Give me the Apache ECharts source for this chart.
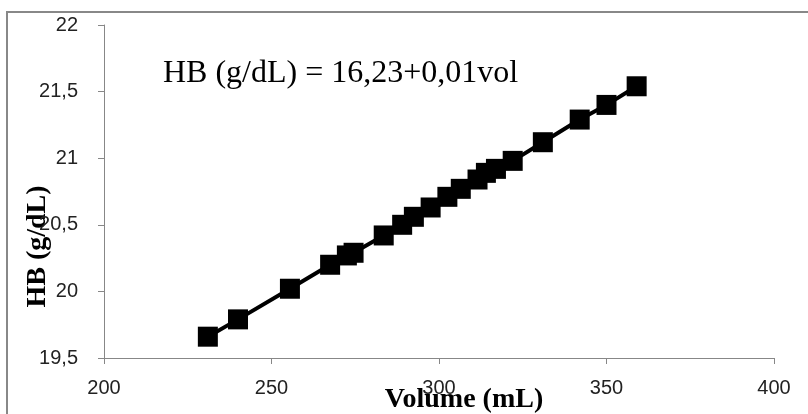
<!DOCTYPE html>
<html>
<head>
	<meta charset="UTF-8">
	<title>HB vs Volume</title>
	<style>
		* { margin: 0; padding: 0; }
		html, body { width: 100%; height: 100%; background: #fff; overflow: hidden; }
		#chart { width: 808px; height: 414px; }
	</style>
</head>
<body>
	<div id="chart"></div>
	<script src="https://cdn.jsdelivr.net/npm/echarts@6/dist/echarts.min.js"></script>
	<script>
		// Volume (mL) and HB (g/dL)
		var volume = [231, 240, 255.5, 267.5, 272.5, 274.5, 283.5, 289, 292.5, 297.5, 302.5, 306.5, 311.5, 314, 317, 322, 331, 342, 350, 359];
		var hb = [19.66, 19.79, 20.02, 20.20, 20.27, 20.29, 20.42, 20.50, 20.56, 20.63, 20.71, 20.77, 20.84, 20.89, 20.92, 20.98, 21.12, 21.29, 21.40, 21.54];
		var xTicks = [200, 400, 50];   // min, max, step
		var yTicks = [19.5, 22, 0.5];
		var equation = 'HB (g/dL) = 16,23+0,01vol';

		var points = volume.map(function(v, i) {
			return [v, hb[i]];
		});

		function comma(v) {
			return String(v).replace('.', ',');
		}

		var chart = echarts.init(document.getElementById('chart'));
		var axisColor = '#878787';
		var option = {
			backgroundColor: '#fff',
			animation: false,
			grid: {
				left: 104,
				right: 34,
				top: 25,
				bottom: 56,
				containLabel: false,
				outerBoundsMode: 'none'
			},
			xAxis: {
				type: 'value',
				min: xTicks[0],
				max: xTicks[1],
				interval: xTicks[2],
				name: 'Volume (mL)',
				nameLocation: 'middle',
				nameGap: 28,
				nameMoveOverlap: false,
				nameTextStyle: {
					fontFamily: 'Liberation Serif',
					fontWeight: 'bold',
					fontSize: 28,
					color: '#000',
					padding: [0, 0, 0, 50]
				},
				axisLine: { lineStyle: { color: axisColor, width: 1 } },
				axisTick: { show: true, length: 6, lineStyle: { color: axisColor } },
				axisLabel: {
					margin: 20,
					fontFamily: 'Liberation Sans',
					fontSize: 20,
					color: '#222'
				},
				splitLine: { show: false }
			},
			yAxis: {
				type: 'value',
				min: yTicks[0],
				max: yTicks[1],
				interval: yTicks[2],
				name: 'HB (g/dL)',
				nameLocation: 'middle',
				nameGap: 52,
				nameMoveOverlap: false,
				nameTextStyle: {
					fontFamily: 'Liberation Serif',
					fontWeight: 'bold',
					fontSize: 28,
					color: '#000',
					padding: [0, 110, 0, 0]
				},
				axisLine: { show: true, lineStyle: { color: axisColor, width: 1 } },
				axisTick: { show: true, length: 6, lineStyle: { color: axisColor } },
				axisLabel: {
					margin: 26,
					fontFamily: 'Liberation Sans',
					fontSize: 20,
					color: '#222',
					formatter: comma
				},
				splitLine: { show: false }
			},
			graphic: [{
				type: 'rect',
				silent: true,
				shape: { x: 7, y: 12, width: 900, height: 500 },
				style: { fill: 'none', stroke: '#888', lineWidth: 2 }
			}, {
				type: 'text',
				left: 163,
				top: 58,
				style: {
					text: equation,
					font: '32px "Liberation Serif"',
					fill: '#000'
				}
			}],
			series: [{
				type: 'line',
				data: points,
				symbol: 'rect',
				symbolSize: 20,
				showSymbol: true,
				itemStyle: { color: '#000' },
				lineStyle: { color: '#000', width: 4 }
			}]
		};
		chart.setOption(option);
	</script>
</body>
</html>
